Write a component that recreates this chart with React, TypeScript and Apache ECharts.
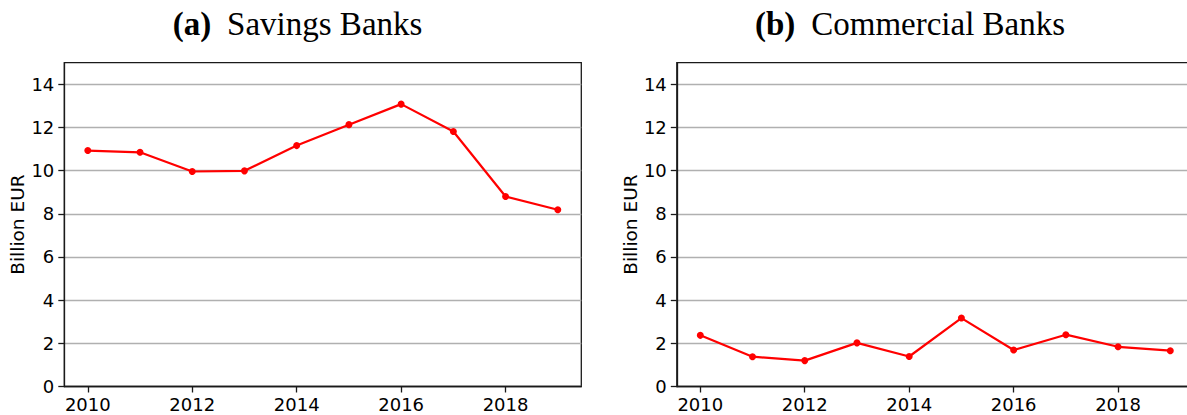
import React, { useEffect, useRef } from "react";
import * as echarts from "echarts";

const years = [2010, 2011, 2012, 2013, 2014, 2015, 2016, 2017, 2018, 2019];
const savingsBanks = [10.93, 10.85, 9.96, 9.99, 11.16, 12.13, 13.08, 11.81, 8.8, 8.19];
const commercialBanks = [2.37, 1.38, 1.2, 2.02, 1.39, 3.17, 1.69, 2.4, 1.84, 1.66];
const xTicks = [2010, 2012, 2014, 2016, 2018];
const yTicks = [0, 2, 4, 6, 8, 10, 12, 14];
const panelTitles = ["(a)", "(b)"];
const panelNames = ["Savings Banks", "Commercial Banks"];
const yAxisName = "Billion EUR";

export default function App() {
  const ref = useRef<HTMLDivElement>(null);
  useEffect(() => {
    if (!ref.current) return;
    const chart = echarts.init(ref.current, null, { renderer: "svg" });
    const gridLefts = [64.3, 676.8];
    const gridWidth = 517;
    const top = 62.7;
    const height = 323.8;
    const titleCenters = [297.5, 910];
    const tickFont = { fontFamily: "DejaVu Sans", fontSize: 18, color: "#000" };

    const grids = gridLefts.map((l) => ({
      left: l,
      top,
      width: gridWidth,
      height,
      show: true,
      borderColor: "#1a1a1a",
      borderWidth: 1.3,
      backgroundColor: "transparent",
    }));

    const xAxes = [0, 1].map((i) => ({
      type: "value",
      gridIndex: i,
      min: 2009.55,
      max: 2019.45,
      axisLine: { show: true, onZero: false, lineStyle: { color: "#1a1a1a", width: 1.3 } },
      axisTick: { show: true, length: 6, customValues: xTicks, lineStyle: { color: "#1a1a1a", width: 1.3 } },
      axisLabel: { ...tickFont, margin: 9, customValues: xTicks, formatter: (v: number) => String(v) },
      splitLine: { show: false },
    }));

    const yAxes = [0, 1].map((i) => ({
      type: "value",
      gridIndex: i,
      min: 0,
      max: 15,
      name: yAxisName,
      nameLocation: "middle",
      nameGap: 37,
      nameTextStyle: { fontFamily: "DejaVu Sans", fontSize: 18.5, color: "#000" },
      axisLine: { show: true, lineStyle: { color: "#1a1a1a", width: 1.3 } },
      axisTick: { show: true, length: 6, customValues: yTicks, lineStyle: { color: "#1a1a1a", width: 1.3 } },
      axisLabel: { ...tickFont, margin: 10, customValues: yTicks },
      splitLine: { show: true, lineStyle: { color: "#b0b0b0", width: 1.3 } },
    }));

    const seriesData = [savingsBanks, commercialBanks];
    const series = seriesData.map((vals, i) => ({
      type: "line",
      xAxisIndex: i,
      yAxisIndex: i,
      data: years.map((y, j) => [y, vals[j]]),
      symbol: "circle",
      symbolSize: 7,
      showSymbol: true,
      lineStyle: { color: "#ff0000", width: 2.2 },
      itemStyle: { color: "#ff0000" },
      clip: false,
    }));

    const graphic = titleCenters.map((cx, i) => ({
      type: "text",
      x: cx,
      y: 24,
      style: {
        text: `{b|${panelTitles[i]}}{n|${panelNames[i]}}`,
        align: "center",
        verticalAlign: "middle",
        rich: {
          b: { fontFamily: "Liberation Serif", fontWeight: "bold", fontSize: 33, fill: "#000", padding: [0, 16, 0, 0] },
          n: { fontFamily: "Liberation Serif", fontSize: 33, fill: "#000" },
        },
      },
    }));

    chart.setOption({
      animation: false,
      grid: grids,
      xAxis: xAxes,
      yAxis: yAxes,
      series,
      graphic,
    });
    return () => chart.dispose();
  }, []);

  return (
    <div style={{ position: "fixed", left: 0, top: 0, width: 1187, height: 415, overflow: "hidden", background: "#fff" }}>
      <div ref={ref} style={{ width: 1200, height: 415 }} />
    </div>
  );
}
